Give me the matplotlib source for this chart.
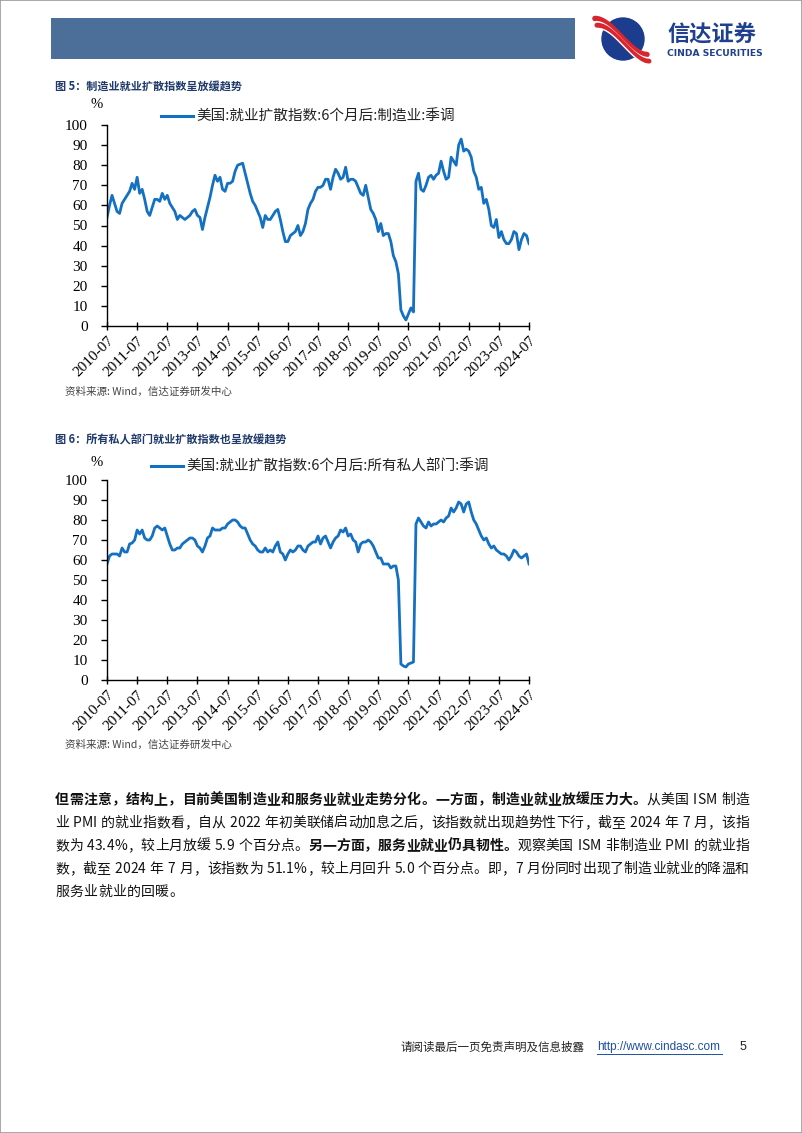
import matplotlib
matplotlib.use("Agg")
import matplotlib.pyplot as plt
from matplotlib.lines import Line2D
from matplotlib.patches import Rectangle, Circle
import numpy as np

plt.rcParams['font.family'] = ['Noto Sans CJK SC', 'DejaVu Sans']

W, H = 802, 1133

# ---------------- data ----------------
tick_labels = ["2010-07", "2011-07", "2012-07", "2013-07", "2014-07", "2015-07", "2016-07",
               "2017-07", "2018-07", "2019-07", "2020-07", "2021-07", "2022-07", "2023-07", "2024-07"]

# Monthly values 2010-07 .. 2024-07
manufacturing = [
    54, 60, 65, 61, 57, 56, 61, 63, 65, 67, 71, 68,      # 2010-07
    74, 66, 68, 63, 57, 55, 59, 63, 63, 62, 66, 63,      # 2011-07
    65, 61, 59, 57, 53, 55, 54, 53, 54, 55, 57, 58,      # 2012-07
    55, 54, 48, 54, 59, 64, 70, 75, 72, 74, 68, 67,      # 2013-07
    71, 71, 72, 77, 80, 80.5, 81, 76, 71, 66, 62, 60,    # 2014-07
    57, 54, 49, 55, 53, 53, 55, 57, 58, 53, 47, 42,      # 2015-07
    42, 45, 46, 47, 50, 45, 47, 51, 58, 61, 63, 67,      # 2016-07
    69, 69, 70, 73, 73, 68, 74, 78, 76, 73, 74, 79,      # 2017-07
    72, 73, 73, 72, 69, 66, 65, 70, 64, 58, 56, 53,      # 2018-07
    47, 51, 45, 46, 46, 42, 35, 32, 26, 8, 5, 3,         # 2019-07
    6, 9, 7, 72, 76, 68, 67, 70, 74, 75, 73, 75,         # 2020-07
    76, 82, 77, 73, 74, 84, 82, 80, 90, 93, 87, 88,      # 2021-07
    87, 84, 77, 74, 68, 69, 61, 63, 58, 50, 49, 53,      # 2022-07
    44, 47, 43, 41, 41, 43, 47, 46, 38, 43, 46, 45,      # 2023-07
    41,                                                  # 2024-07
]

private = [
    58, 62, 63, 63, 63, 62, 66, 64, 64, 68, 68.5, 70,    # 2010-07
    75, 73, 75, 71, 70, 70, 72, 76, 77, 76, 75, 76,      # 2011-07
    72, 68, 65, 65, 66, 66, 68, 69, 70, 71, 71, 70,      # 2012-07
    67, 66, 64, 67, 71, 72, 76, 75, 75, 75, 76, 76,      # 2013-07
    78, 79, 80, 80, 79, 77, 76, 76, 73, 70, 68, 67,      # 2014-07
    65, 64, 64, 66, 64, 65, 64, 67, 69, 64, 63, 60,      # 2015-07
    63, 65, 64, 65, 67, 67, 65, 64, 67, 68, 69, 69,      # 2016-07
    72, 68, 71, 72, 69, 66, 69, 71, 72, 75, 74, 76,      # 2017-07
    72, 73, 70, 69, 64, 68, 69, 69, 70, 69, 67, 64,      # 2018-07
    61, 61, 58, 58, 58, 56, 57, 57, 50, 8, 7, 6.5,       # 2019-07
    8, 8.5, 9, 78, 81, 79, 77, 76, 79, 77, 78, 78,       # 2020-07
    79, 80, 79, 81, 82, 86, 84, 86, 89, 88, 84, 88,      # 2021-07
    89, 84, 80, 78, 75, 72, 70, 71, 68, 66, 67, 65,      # 2022-07
    64, 63, 63, 62, 60, 62, 65, 64, 62, 61, 62, 63,      # 2023-07
    58,                                                  # 2024-07
]

legend1 = "美国:就业扩散指数:6个月后:制造业:季调"
legend2 = "美国:就业扩散指数:6个月后:所有私人部门:季调"
title1 = "图 5：制造业就业扩散指数呈放缓趋势"
title2 = "图 6：所有私人部门就业扩散指数也呈放缓趋势"
source = "资料来源: Wind，信达证券研发中心"

# ---------------- figure ----------------
fig = plt.figure(figsize=(W / 100, H / 100), dpi=100)

def fx(px):
    return px / W

def fy(py):
    return 1 - py / H

# page border
fig.patches.append(Rectangle((0, 0), 1, 1, transform=fig.transFigure, fill=False,
                             edgecolor='#9a9a9a', lw=1.2))

# header bar
fig.patches.append(Rectangle((fx(51), fy(59)), fx(575) - fx(51), fy(18) - fy(59),
                             transform=fig.transFigure, facecolor='#4B6F98', edgecolor='none'))

# logo
lax = fig.add_axes([fx(588), fy(64), fx(66), (fy(14) - fy(64))])
lax.set_xlim(0, 66)
lax.set_ylim(50, 0)
lax.set_aspect('equal')
lax.axis('off')
circ = Circle((35, 25), 21, color='#1C3C8E')
lax.add_patch(circ)
tt = np.linspace(0, 1, 60)
for off, col, lw in [(-3.5, '#D8262E', 4.0), (0, 'white', 1.6), (3.2, '#D8262E', 3.6), (6.5, 'white', 1.0)]:
    xs = 8 + 52 * tt + off * 0.3
    ys = 8 + 36 * (3 * tt ** 2 - 2 * tt ** 3) + off
    lax.plot(xs, ys, color=col, lw=lw, solid_capstyle='round')
fig.text(fx(667), fy(35), "信达证券", fontsize=16, fontweight='bold', color='#1F3F8F',
         va='center', ha='left')
fig.text(fx(667), fy(53), "CINDA SECURITIES", fontsize=6.6, fontweight='bold', color='#1F3F8F',
         va='center', ha='left', family=['DejaVu Sans'])

line_color = '#1470C1'
serif = ['Liberation Serif', 'DejaVu Serif']


def make_chart(top_px, bottom_px, data, legend_text, leg_center, pct_pos, title_y, title, source_y):
    ax = fig.add_axes([fx(107), fy(bottom_px), fx(529) - fx(107), fy(top_px) - fy(bottom_px)])
    x = np.arange(len(data))
    ax.plot(x, data, color=line_color, lw=2.0, label=legend_text)
    ax.set_xlim(0, len(data) - 1)
    ax.set_ylim(0, 100)
    ax.set_yticks(np.arange(0, 101, 10))
    ax.set_xticks(np.arange(0, len(data), 12))
    ax.set_xticklabels(tick_labels, rotation=45, ha='right', rotation_mode='anchor')
    for s in ['top', 'right']:
        ax.spines[s].set_visible(False)
    for s in ['left', 'bottom']:
        ax.spines[s].set_linewidth(1.0)
        ax.spines[s].set_color('black')
    ax.tick_params(axis='y', direction='out', length=4, width=1, pad=10)
    ax.tick_params(axis='x', direction='inout', length=6, width=1, pad=3)
    for lab in ax.get_yticklabels() + ax.get_xticklabels():
        lab.set_fontfamily(serif)
        lab.set_fontsize(11)
    ax.patch.set_alpha(0)
    leg = ax.legend(loc='center', bbox_to_anchor=(fx(leg_center[0]), fy(leg_center[1])),
                    bbox_transform=fig.transFigure, frameon=False, handlelength=2.2,
                    handletextpad=0.2, prop={'family': ['Noto Sans CJK SC', 'DejaVu Sans'], 'size': 10.5})
    leg.get_lines()[0].set_linewidth(2.2)
    for t in leg.get_texts():
        t.set_color('#222222')
    fig.text(fx(pct_pos[0]), fy(pct_pos[1]), "%", fontsize=10.5, family=serif, ha='center', va='center')
    fig.text(fx(55), fy(title_y), title, fontsize=8, fontweight='bold', color='#1F3A6B',
             ha='left', va='center')
    fig.text(fx(65), fy(source_y), source, fontsize=7.6, color='#444444', style='italic',
             ha='left', va='center')
    return ax


make_chart(125, 326, manufacturing, legend1, (308, 117), (97, 104), 86, title1, 392)
make_chart(480, 680, private, legend2, (320, 467), (97, 462), 440, title2, 745)

# ---------------- body text ----------------
para = [
    [("但需注意，结构上，目前美国制造业和服务业就业走势分化。一方面，制造业就业放缓压力大。", True),
     ("从美国 ISM 制造", False)],
    [("业 PMI 的就业指数看，自从 2022 年初美联储启动加息之后，该指数就出现趋势性下行，截至 2024 年 7 月，该指", False)],
    [("数为 43.4%，较上月放缓 5.9 个百分点。", False), ("另一方面，服务业就业仍具韧性。", True),
     ("观察美国 ISM 非制造业 PMI 的就业指", False)],
    [("数，截至 2024 年 7 月，该指数为 51.1%，较上月回升 5.0 个百分点。即，7 月份同时出现了制造业就业的降温和", False)],
    [("服务业就业的回暖。", False)],
]
line_ys = [800, 823, 846, 869, 892]
renderer = fig.canvas.get_renderer()
body_size = 10
for segs, y, i in zip(para, line_ys, range(len(para))):
    objs = []
    widths = []
    for text, bold in segs:
        for ch in text:
            if ch == ' ':
                objs.append(None)
                widths.append(4.0)
                continue
            t = fig.text(0, fy(y), ch, fontsize=body_size, fontweight='bold' if bold else 'normal',
                         color='#111111', ha='left', va='center')
            objs.append(t)
            widths.append(t.get_window_extent(renderer).width)
    total = sum(widths)
    n = len(objs)
    justify = i < len(para) - 1
    extra = (749 - 55 - total) / (n - 1) if justify else 0.4
    xp = 55
    for t, w in zip(objs, widths):
        if t is not None:
            t.set_x(fx(xp))
        xp += w + extra

# ---------------- footer ----------------
fig.text(fx(400), fy(1047), "请阅读最后一页免责声明及信息披露", fontsize=8.3, color='#222222',
         ha='left', va='center')
fig.text(fx(597), fy(1047), "http://www.cindasc.com", fontsize=8.5, color='#1F4FA0',
         ha='left', va='center', family=['Liberation Sans'])
fig.add_artist(Line2D([fx(597), fx(722)], [fy(1054), fy(1054)], transform=fig.transFigure,
                      color='#1F4FA0', lw=0.7))
fig.text(fx(740), fy(1047), "5", fontsize=9, color='#222222', ha='left', va='center',
         family=['Liberation Sans'])

fig.savefig("out.png", dpi=100)
